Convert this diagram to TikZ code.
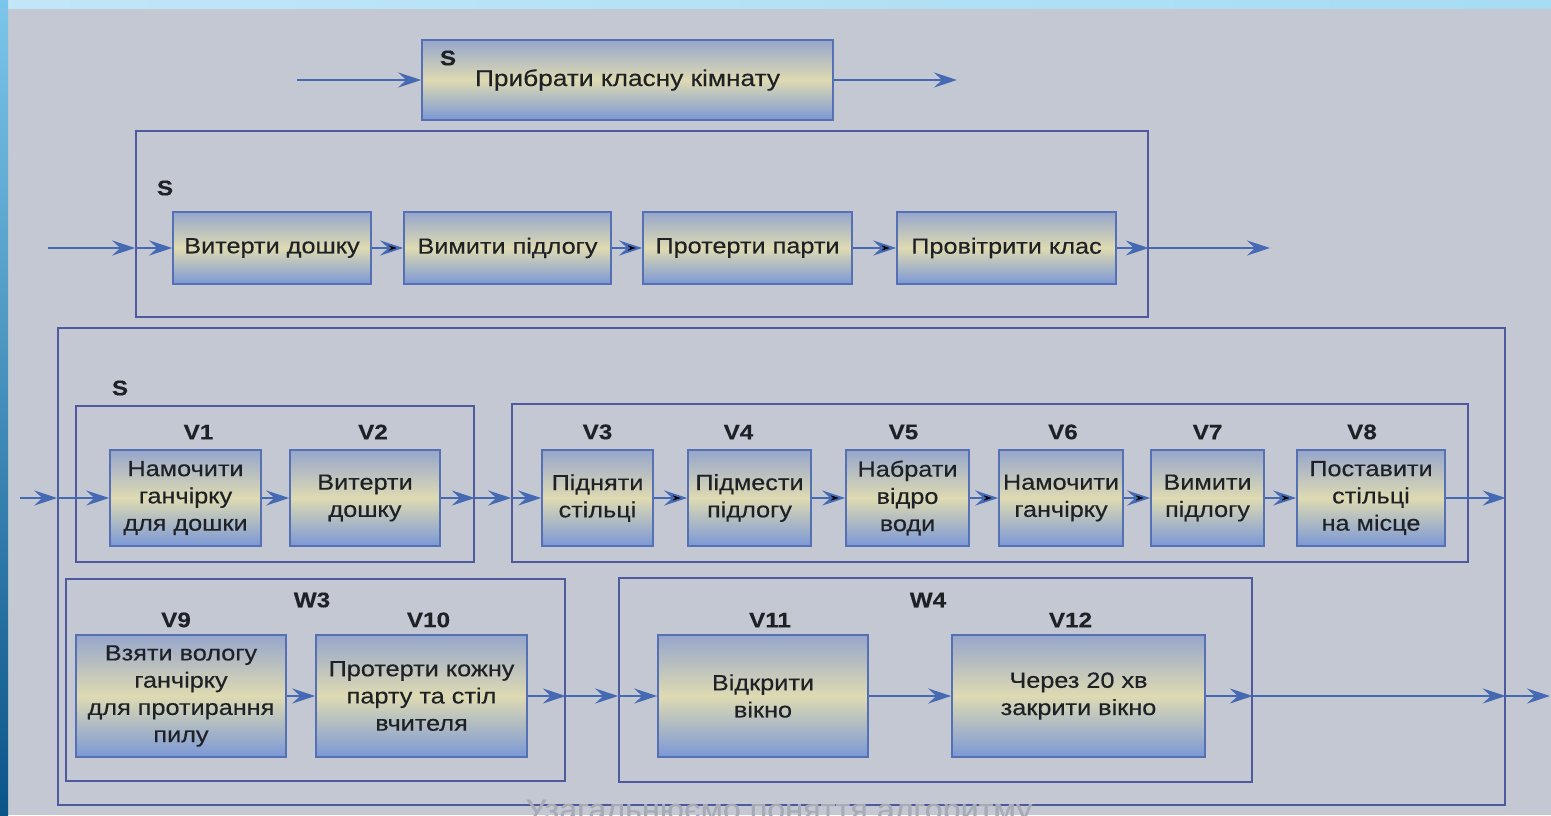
\documentclass[tikz,border=0pt]{standalone}
\usepackage{fontspec}
\setmainfont{Liberation Sans}[FakeStretch=1.15, FakeBold=0.35]
\usetikzlibrary{arrows.meta,positioning}

\definecolor{papir}{HTML}{C4C8D2}
\definecolor{ramkac}{HTML}{4F5A9E}
\definecolor{strilkac}{HTML}{4569B2}
\definecolor{blokverh}{HTML}{96A6CC}
\definecolor{bloksered}{HTML}{DEDAB2}
\definecolor{bloknyz}{HTML}{7B98D6}
\definecolor{blokkraj}{HTML}{5670B4}
\definecolor{tekst}{HTML}{1E2126}
\definecolor{sira}{HTML}{A6ABB5}
\definecolor{smugaverh}{HTML}{A6DCF4}
\definecolor{smugalivo}{HTML}{7CC6EC}
\definecolor{smuganyz}{HTML}{0A5488}

\begin{document}
\begin{tikzpicture}[x=0.02cm, y=-0.02cm,
  blok/.style={draw=blokkraj, line width=0.9pt, top color=blokverh, bottom color=bloknyz, middle color=bloksered,
    minimum height=1.92cm, inner sep=1pt, align=center, text=tekst, font=\fontsize{12.5}{15.5}\selectfont},
  ramka/.style={draw=ramkac, line width=1pt, inner sep=0pt},
  mitka/.style={font=\bfseries\fontsize{12}{14}\selectfont, text=tekst, inner sep=0pt},
  strilka/.style={draw=strilkac, line width=1.1pt, -{Stealth[length=0.46cm, width=0.3cm, inset=0.16cm]}}]

  % page and slide border
  \useasboundingbox (0,0) rectangle (1551,815);
  \clip (0,0) rectangle (1551,815);
  \fill[papir] (0,0) rectangle (1551,815);
  \shade[left color=smugaverh!70!white, right color=smugaverh] (0,0) rectangle (1551,8);
  \shade[top color=smugalivo, bottom color=smuganyz] (0,0) rectangle (8,815);

  % frames
  \node[ramka, minimum width=20.24cm, minimum height=3.72cm] (fS2) at (642,224) {};
  \node[ramka, minimum width=28.94cm, minimum height=9.54cm] (fS3) at (781.5,566.5) {};
  \node[ramka, minimum width=7.96cm, minimum height=3.12cm] (fA) at (275,484) {};
  \node[ramka, minimum width=19.12cm, minimum height=3.16cm] (fB) at (990,483) {};
  \node[ramka, minimum width=9.98cm, minimum height=4.04cm] (fW3) at (315.5,680) {};
  \node[ramka, minimum width=12.66cm, minimum height=4.08cm] (fW4) at (935.5,680) {};

  % top block
  \node[blok, minimum width=8.22cm, minimum height=1.6cm, font=\fontsize{13}{15}\selectfont] (top) at (627.5,80) {Прибрати класну кімнату};
  \node[mitka] (sTop) at (448,58) {S};

  % second level
  \node[mitka] (sS2) at (165,188) {S};
  \node[blok, minimum width=3.96cm, minimum height=1.44cm] (b1) at (272,248) {Витерти дошку};
  \node[blok, minimum width=4.14cm, minimum height=1.44cm] (b2) at (507.5,248) {Вимити підлогу};
  \node[blok, minimum width=4.18cm, minimum height=1.44cm] (b3) at (747.5,248) {Протерти парти};
  \node[blok, minimum width=4.38cm, minimum height=1.44cm] (b4) at (1006.5,248) {Провітрити клас};

  % third level, first row
  \node[mitka] (sS3) at (120,388) {S};
  \node[blok, minimum width=3.02cm] (v1) at (185.5,498) {Намочити\\ганчірку\\для дошки};
  \node[blok, minimum width=3.0cm] (v2) at (365,498) {Витерти\\дошку};
  \node[blok, minimum width=2.22cm] (v3) at (597.5,498) {Підняти\\стільці};
  \node[blok, minimum width=2.46cm] (v4) at (749.5,498) {Підмести\\підлогу};
  \node[blok, minimum width=2.46cm] (v5) at (907.5,498) {Набрати\\відро\\води};
  \node[blok, minimum width=2.48cm] (v6) at (1061,498) {Намочити\\ганчірку};
  \node[blok, minimum width=2.26cm] (v7) at (1207.5,498) {Вимити\\підлогу};
  \node[blok, minimum width=2.96cm] (v8) at (1371,498) {Поставити\\стільці\\на місце};
  \foreach \v/\t/\dx in {v1/V1/13, v2/V2/8, v3/V3/0, v4/V4/-11, v5/V5/-4, v6/V6/2, v7/V7/0, v8/V8/-9}
    \node[mitka, above=0.19cm of \v, xshift=\dx*0.02cm] (l\v) {\t};

  % third level, second row
  \node[mitka] (lW3) at (312,600) {W3};
  \node[mitka] (lW4) at (928,600) {W4};
  \node[blok, minimum width=4.2cm, minimum height=2.44cm] (v9) at (181,696) {Взяти вологу\\ганчірку\\для протирання\\пилу};
  \node[blok, minimum width=4.22cm, minimum height=2.44cm] (v10) at (421.5,696) {Протерти кожну\\парту та стіл\\вчителя};
  \node[blok, minimum width=4.2cm, minimum height=2.44cm] (v11) at (763,696) {Відкрити\\вікно};
  \node[blok, minimum width=5.06cm, minimum height=2.44cm] (v12) at (1078.5,696) {Через 20 хв\\закрити вікно};
  \foreach \v/\t/\dx in {v9/V9/-5, v10/V10/7, v11/V11/7, v12/V12/-8}
    \node[mitka, above=0.13cm of \v, xshift=\dx*0.02cm] (l\v) {\t};

  % free ends
  \coordinate (in1) at (297,80);
  \coordinate (out1) at (957,80);
  \coordinate (in2) at (48,248);
  \coordinate (out2) at (1270,248);
  \coordinate (in3) at (20,498);
  \coordinate (out3) at (1550,696);

  % arrows
  \draw[strilka] (in1) -- (top);
  \draw[strilka] (top) -- (out1);

  \draw[strilka] (in2) -- (in2 -| fS2.west);
  \draw[strilka] (in2 -| fS2.west) -- (b1);
  \path[strilka]
    (b1) edge (b2)
    (b2) edge (b3)
    (b3) edge (b4);
  \draw[strilka] (b4) -- (b4 -| fS2.east);
  \draw[strilka] (b4 -| fS2.east) -- (out2);

  \draw[strilka] (in3) -- (in3 -| fS3.west);
  \draw[strilka] (in3 -| fS3.west) -- (v1);
  \draw[strilka] (v1) -- (v2);
  \draw[strilka] (v2) -- (v2 -| fA.east);
  \draw[strilka] (v2 -| fA.east) -- (v3 -| fB.west);
  \draw[strilka] (v3 -| fB.west) -- (v3);
  \path[strilka]
    (v3) edge (v4)
    (v4) edge (v5)
    (v5) edge (v6)
    (v6) edge (v7)
    (v7) edge (v8);
  \draw[strilka] (v8) -- (v8 -| fS3.east);

  \draw[strilka] (v9) -- (v10);
  \draw[strilka] (v10) -- (v10 -| fW3.east);
  \draw[strilka] (v10 -| fW3.east) -- (v11 -| fW4.west);
  \draw[strilka] (v11 -| fW4.west) -- (v11);
  \draw[strilka] (v11) -- (v12);
  \draw[strilka] (v12) -- (v12 -| fW4.east);
  \draw[strilka] (v12 -| fW4.east) -- (v12 -| fS3.east);
  \draw[strilka] (v12 -| fS3.east) -- (out3);

  % caption showing below the page edge
  \node[font=\fontsize{16}{18}\selectfont, text=sira, anchor=base, inner sep=0pt] (pidpys) at (779,819) {Узагальнюємо поняття алгоритму};
\end{tikzpicture}
\end{document}
